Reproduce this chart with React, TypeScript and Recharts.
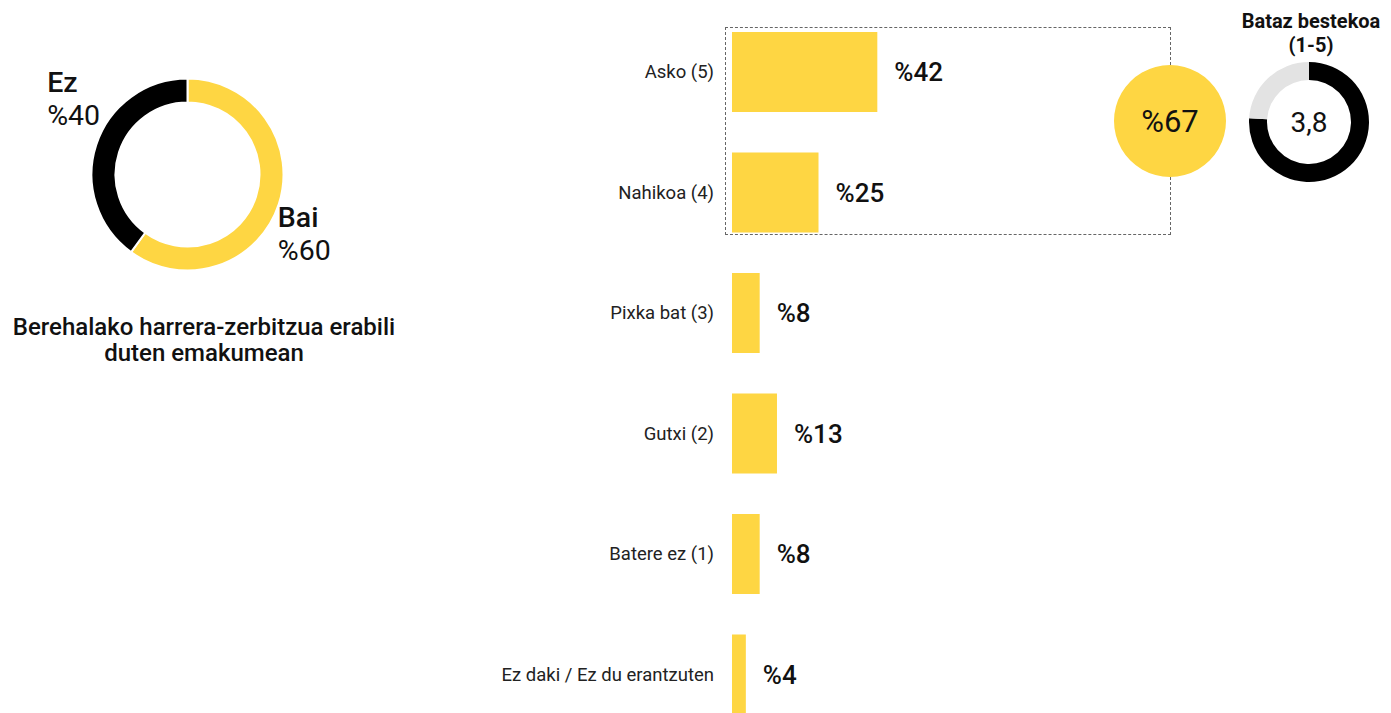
import React from 'react'
import {
  PieChart,
  Pie,
  Cell,
  Label,
  BarChart,
  Bar,
  XAxis,
  YAxis,
  LabelList,
} from 'recharts'

const FONT = 'Roboto, "Noto Sans", sans-serif'
const YELLOW = '#FED643'
const NO_MARGIN = { top: 0, right: 0, bottom: 0, left: 0 }

// left donut
const usageLabels = ['Bai', 'Ez']
const usageValues = [60, 40]
const usageColors = [YELLOW, '#000000']
const usageTitle = ['Berehalako harrera-zerbitzua erabili', 'duten emakumean']

// bars
const categories = [
  'Asko (5)',
  'Nahikoa (4)',
  'Pixka bat (3)',
  'Gutxi (2)',
  'Batere ez (1)',
  'Ez daki / Ez du erantzuten',
]
const shares = [42, 25, 8, 13, 8, 4]

// summary
const topShare = 67
const averageValue = 3.8
const scaleMax = 5
const averageTitle = ['Bataz bestekoa', '(1-5)']

const usageData = usageLabels.map((name, i) => ({ name, value: usageValues[i] }))
const barData = categories.map((name, i) => ({ name, value: shares[i] }))
const topData = [{ name: 'top', value: topShare }]
const averageData = [
  { name: 'avg', value: averageValue },
  { name: 'rest', value: scaleMax - averageValue },
]

// label offsets (px) from the point on the outer edge at each slice's mid angle
const usageLabelOffset: Record<string, { dx: number; dy: number }> = {
  Bai: { dx: -1, dy: 23 },
  Ez: { dx: -49, dy: -53 },
}

function renderUsageLabel(props: any) {
  const { cx, cy, midAngle, outerRadius, index } = props
  const rad = (Math.PI / 180) * midAngle
  const px = cx + outerRadius * Math.cos(rad)
  const py = cy - outerRadius * Math.sin(rad)
  const name = usageLabels[index]
  const off = usageLabelOffset[name]
  return (
    <text x={px + off.dx} y={py + off.dy} fill="#111" fontFamily={FONT} fontSize={28.5}>
      <tspan x={px + off.dx} fontWeight={500}>{name}</tspan>
      <tspan x={px + off.dx} dy={33}>{`%${usageValues[index]}`}</tspan>
    </text>
  )
}

function CategoryTick(props: any) {
  const { x, y, payload } = props
  return (
    <text x={x} y={y} dy={6} textAnchor="end" fill="#222" fontFamily={FONT} fontSize={18.5}>
      {payload.value}
    </text>
  )
}

export default function App() {
  return (
    <div
      style={{
        position: 'relative',
        width: 1375,
        height: 705,
        overflow: 'hidden',
        fontFamily: FONT,
        background: '#fff',
      }}
    >
      <div style={{ position: 'absolute', left: 0, top: 0 }}>
        <PieChart width={400} height={300} margin={NO_MARGIN}>
          <Pie
            data={usageData}
            dataKey="value"
            cx={179.5}
            cy={166.5}
            innerRadius={72}
            outerRadius={96}
            startAngle={90}
            endAngle={-270}
            stroke="#fff"
            strokeWidth={2}
            label={renderUsageLabel}
            labelLine={false}
            isAnimationActive={false}
          >
            {usageData.map((d, i) => (
              <Cell key={d.name} fill={usageColors[i]} />
            ))}
          </Pie>
        </PieChart>
      </div>

      <div
        style={{
          position: 'absolute',
          left: 0,
          width: 392,
          top: 306,
          textAlign: 'center',
          fontSize: 24,
          fontWeight: 500,
          lineHeight: '26px',
          color: '#111',
        }}
      >
        {usageTitle.map((t) => (
          <div key={t}>{t}</div>
        ))}
      </div>

      <div
        style={{
          position: 'absolute',
          left: 717,
          top: 19,
          width: 446,
          height: 208,
          border: '1px dashed #666',
          boxSizing: 'border-box',
        }}
      />

      <div style={{ position: 'absolute', left: 484, top: 3.75 }}>
        <BarChart
          width={666}
          height={723}
          data={barData}
          layout="vertical"
          margin={{ top: 0, right: 80, bottom: 0, left: 0 }}
          barSize={80}
        >
          <XAxis type="number" domain={[0, 100]} hide />
          <YAxis
            type="category"
            dataKey="name"
            width={240}
            axisLine={false}
            tickLine={false}
            tickSize={6}
            tickMargin={12}
            tick={<CategoryTick />}
            interval={0}
          />
          <Bar dataKey="value" fill={YELLOW} isAnimationActive={false}>
            <LabelList
              dataKey="value"
              position="right"
              offset={17}
              formatter={(v: any) => `%${v}`}
              fill="#111"
              fontFamily={FONT}
              fontSize={26}
              fontWeight={500}
            />
          </Bar>
        </BarChart>
      </div>

      <div style={{ position: 'absolute', left: 1102, top: 53 }}>
        <PieChart width={120} height={120} margin={NO_MARGIN}>
          <Pie
            data={topData}
            dataKey="value"
            innerRadius={0}
            outerRadius={56}
            stroke="none"
            isAnimationActive={false}
          >
            <Cell fill={YELLOW} />
            <Label
              value={`%${topShare}`}
              position="center"
              fontFamily={FONT}
              fontSize={31}
              fill="#111"
            />
          </Pie>
        </PieChart>
      </div>

      <div style={{ position: 'absolute', left: 1236, top: 49 }}>
        <PieChart width={130} height={130} margin={NO_MARGIN}>
          <Pie
            data={averageData}
            dataKey="value"
            innerRadius={42}
            outerRadius={60}
            startAngle={90}
            endAngle={-270}
            stroke="none"
            isAnimationActive={false}
          >
            <Cell fill="#000" />
            <Cell fill="#E3E3E3" />
            <Label
              value={String(averageValue).replace('.', ',')}
              position="center"
              fontFamily={FONT}
              fontSize={28}
              fill="#111"
            />
          </Pie>
        </PieChart>
      </div>

      <div
        style={{
          position: 'absolute',
          left: 1203,
          width: 200,
          top: 1,
          textAlign: 'center',
          fontSize: 20,
          fontWeight: 700,
          lineHeight: '24px',
          color: '#111',
          whiteSpace: 'nowrap',
        }}
      >
        {averageTitle.map((t) => (
          <div key={t}>{t}</div>
        ))}
      </div>
    </div>
  )
}
